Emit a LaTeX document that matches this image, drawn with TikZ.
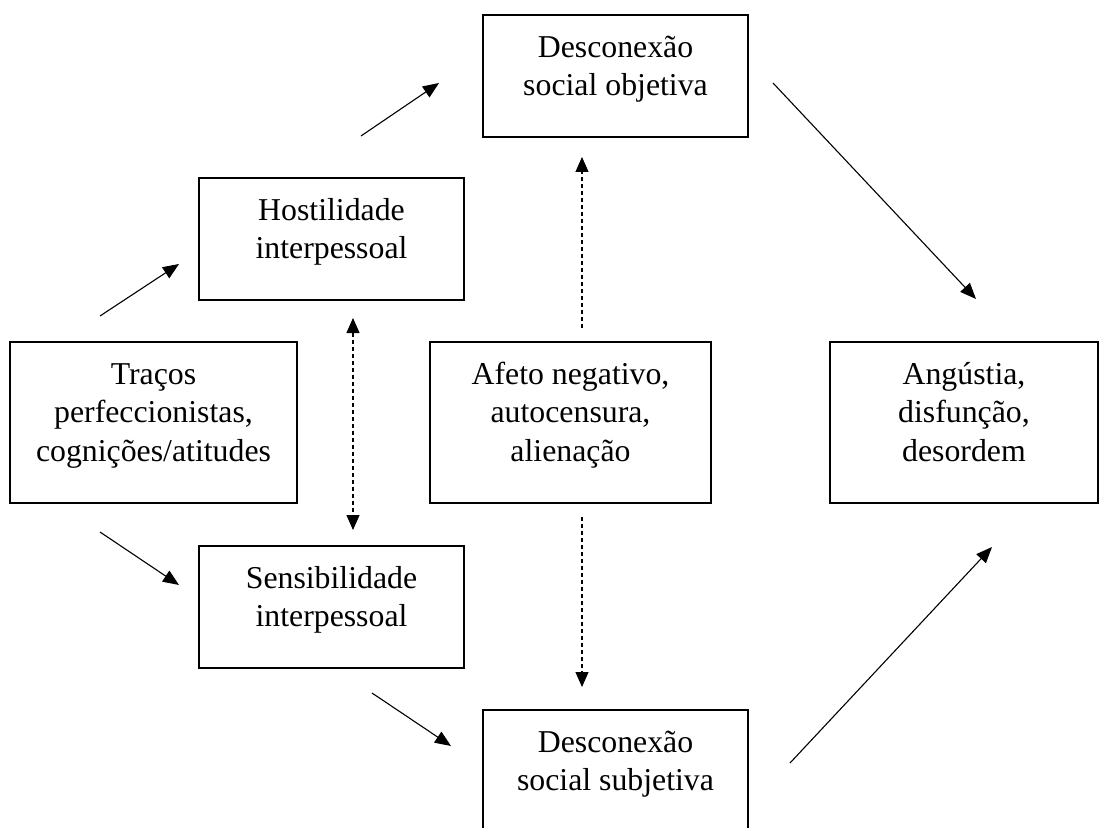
\documentclass[tikz,border=0pt]{standalone}
\usepackage{fontspec}
\setmainfont{Liberation Serif}
\usetikzlibrary{arrows.meta}
\begin{document}
\begin{tikzpicture}[x=0.5pt,y=-0.5pt,
  box/.style={draw, line width=0.9pt, rectangle, inner sep=0pt},
  lbl/.style={anchor=north, align=center, inner sep=0pt,
    font=\fontsize{15.9pt}{19.25pt}\selectfont},
  tip/.style={Triangle[length=8pt,width=6.5pt]},
  arr/.style={line width=0.55pt, -{Triangle[length=8pt,width=6.5pt]}},
  darr/.style={line width=0.55pt, dash pattern=on 2pt off 1.5pt,
    -{Triangle[length=7.5pt,width=6.5pt]}},
  ddarr/.style={line width=0.55pt, dash pattern=on 2pt off 1.5pt,
    {Triangle[length=7.5pt,width=6.5pt]}-{Triangle[length=7.5pt,width=6.5pt]}}]
\clip (0,0) rectangle (1101,828);
\fill[white] (0,0) rectangle (1101,828);

% boxes
\node[box, minimum width=132.5pt, minimum height=61pt] (obj) at (615.5,76) {};
\node[box, minimum width=132.5pt, minimum height=61pt] (host) at (331.5,239) {};
\node[box, minimum width=143.5pt, minimum height=80.5pt] (trac) at (153.5,422.5) {};
\node[box, minimum width=140.5pt, minimum height=80.5pt] (afeto) at (570.5,422.5) {};
\node[box, minimum width=134pt, minimum height=80.5pt] (ang) at (964,422.5) {};
\node[box, minimum width=132.5pt, minimum height=61pt] (sens) at (331.5,607) {};
\node[box, minimum width=132.5pt, minimum height=61pt] (subj) at (615.5,771) {};

% labels
\node[lbl] (tobj) at (615.5,30) {\strut Desconexão\\social objetiva};
\node[lbl] (thost) at (331.5,193) {\strut Hostilidade\\interpessoal};
\node[lbl] (ttrac) at (153.5,357) {\strut Traços\\perfeccionistas,\\cognições/atitudes};
\node[lbl] (tafeto) at (570.5,357) {\strut Afeto negativo,\\autocensura,\\alienação};
\node[lbl] (tang) at (964,357) {\strut Angústia,\\disfunção,\\desordem};
\node[lbl] (tsens) at (331.5,561) {\strut Sensibilidade\\interpessoal};
\node[lbl] (tsubj) at (615.5,725) {\strut Desconexão\\social subjetiva};

% connector end points
\coordinate (a1s) at (100,316);  \coordinate (a1e) at (179,264);
\coordinate (a2s) at (361,136);  \coordinate (a2e) at (439,83);
\coordinate (a3s) at (773,83);   \coordinate (a3e) at (976,299);
\coordinate (a4s) at (100,532);  \coordinate (a4e) at (179,585);
\coordinate (a5s) at (372,693);  \coordinate (a5e) at (451,746);
\coordinate (a6s) at (790,763);  \coordinate (a6e) at (992,547);
\coordinate (d1s) at (353,318);  \coordinate (d1e) at (353,530);
\coordinate (d2s) at (582,328);  \coordinate (d2e) at (582,157);
\coordinate (d3s) at (582,517);  \coordinate (d3e) at (582,687);

% connectors
\draw[arr] (a1s) -- (a1e);
\draw[arr] (a2s) -- (a2e);
\draw[arr] (a3s) -- (a3e);
\draw[arr] (a4s) -- (a4e);
\draw[arr] (a5s) -- (a5e);
\draw[arr] (a6s) -- (a6e);
\draw[ddarr] (d1s) -- (d1e);
\draw[darr] (d2s) -- (d2e);
\draw[darr] (d3s) -- (d3e);
\end{tikzpicture}
\end{document}
